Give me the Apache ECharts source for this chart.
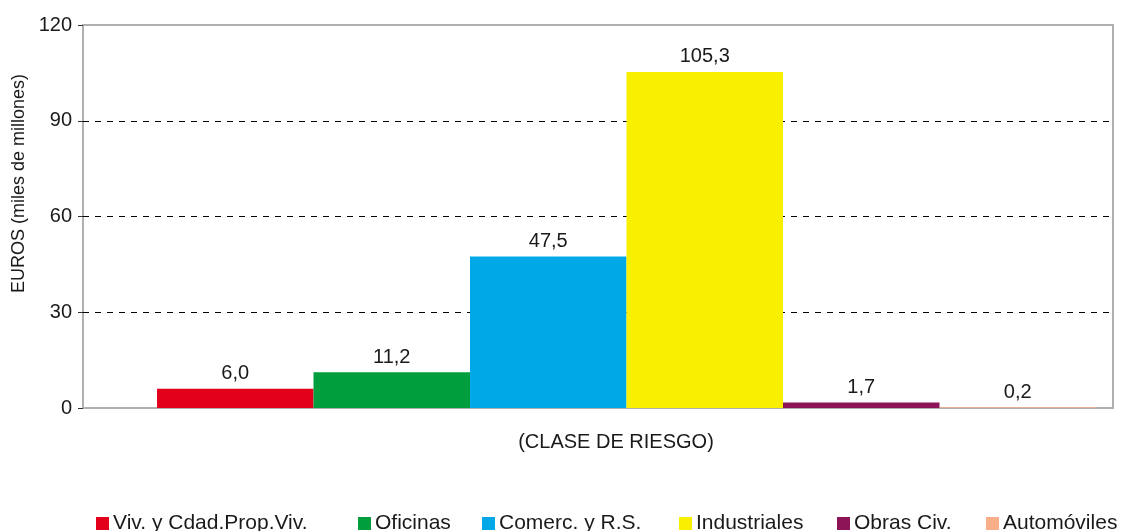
<!DOCTYPE html>
<html>
  <head>
    <meta charset="utf-8" />
    <title>EUROS por clase de riesgo</title>
    <script src="https://cdn.jsdelivr.net/npm/echarts@6/dist/echarts.min.js"></script>
    <style>
      html, body { margin: 0; padding: 0; background: #fff; }
      #chart { width: 1121px; height: 531px; }
    </style>
  </head>
  <body>
    <div id="chart"></div>
    <script type="text/javascript">
      // datos
      var categories = ['Viv. y Cdad.Prop.Viv.', 'Oficinas', 'Comerc. y R.S.', 'Industriales', 'Obras Civ.', 'Automóviles'];
      var values = [6.0, 11.2, 47.5, 105.3, 1.7, 0.2];
      var colors = ['#e2001a', '#009e3d', '#00a8e8', '#f8f000', '#8c1457', '#f8ae88'];
      var yMin = 0, yMax = 120, yStep = 30;

      // posiciones de la leyenda (px desde la izquierda)
      var legendLeft = [96, 358, 482, 679, 837, 986];

      var font = '"Liberation Sans", Arial, sans-serif';
      var fmt = function (v) { return v.toFixed(1).replace('.', ','); };

      var series = categories.map(function (name, i) {
        return {
          name: name,
          type: 'bar',
          xAxisIndex: 1,
          yAxisIndex: 1,
          barGap: '0%',
          barCategoryGap: '0%',
          itemStyle: { color: colors[i] },
          label: {
            show: true,
            position: 'top',
            distance: 5,
            color: '#1a1a1a',
            fontFamily: font,
            fontSize: 20,
            formatter: function (p) { return fmt(p.value); }
          },
          data: [values[i]]
        };
      });

      var legends = categories.map(function (name, i) {
        return {
          data: [name],
          left: legendLeft[i],
          top: 513,
          padding: 0,
          icon: 'rect',
          itemWidth: 13,
          itemHeight: 13,
          itemGap: 5,
          selectedMode: false,
          textStyle: { color: '#1a1a1a', fontFamily: font, fontSize: 21, padding: [0, 0, 0, -1] }
        };
      });

      var myChart = echarts.init(document.getElementById('chart'), null, { renderer: 'canvas' });
      myChart.setOption({
        animation: false,
        backgroundColor: '#fff',
        color: colors,
        legend: legends,
        grid: [
          { left: 83, right: 8, top: 25, bottom: 123, show: true, borderColor: '#b0b0b0', borderWidth: 2, backgroundColor: '#fff' },
          { left: 157, right: 25, top: 25, bottom: 123 }
        ],
        xAxis: [
          {
            gridIndex: 0,
            type: 'category',
            data: [''],
            axisLine: { show: false },
            axisTick: { show: false },
            axisLabel: { show: false },
            name: '(CLASE DE RIESGO)',
            nameLocation: 'middle',
            nameGap: 24,
            nameTextStyle: { color: '#1a1a1a', fontFamily: font, fontSize: 20, padding: [0, 0, 0, 36] }
          },
          {
            gridIndex: 1,
            type: 'category',
            data: [''],
            show: false
          }
        ],
        yAxis: [
          {
            gridIndex: 0,
            type: 'value',
            min: yMin,
            max: yMax,
            interval: yStep,
            name: 'EUROS (miles de millones)',
            nameLocation: 'middle',
            nameGap: 48,
            nameTextStyle: { color: '#1a1a1a', fontFamily: font, fontSize: 18, padding: [0, 0, 0, 66] },
            axisLine: { show: false },
            axisTick: { show: true, length: 5, lineStyle: { color: '#333' } },
            axisLabel: { margin: 11, color: '#1a1a1a', fontFamily: font, fontSize: 20 },
            splitLine: {
              show: true,
              showMinLine: false,
              showMaxLine: false,
              lineStyle: { color: '#000', width: 1, type: [6, 6] }
            }
          },
          {
            gridIndex: 1,
            type: 'value',
            min: yMin,
            max: yMax,
            interval: yStep,
            show: false,
            splitLine: { show: false }
          }
        ],
        series: series
      });
    </script>
  </body>
</html>
